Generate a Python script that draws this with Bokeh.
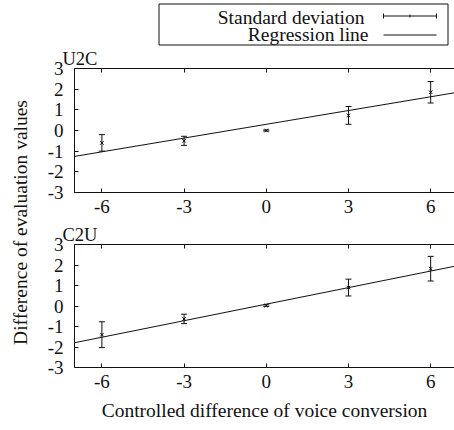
import math
from bokeh.plotting import figure
from bokeh.layouts import row, column
from bokeh.models import (Range1d, FixedTicker, LinearAxis, Whisker, TeeHead,
                          ColumnDataSource, Slope, Title)
from bokeh.core.properties import value
from bokeh.embed import file_html
from bokeh.resources import INLINE

# ---- data ----
x_vals = [-6, -3, 0, 3, 6]
u2c_mean = [-0.6, -0.5, 0.0, 0.73, 1.85]
u2c_sd = [0.40, 0.22, 0.03, 0.43, 0.52]
c2u_mean = [-1.40, -0.63, 0.02, 0.90, 1.82]
c2u_sd = [0.63, 0.23, 0.04, 0.41, 0.60]
u2c_fit = [0.222, 0.30]   # slope, intercept
c2u_fit = [0.269, 0.09]
x_ticks = [-6, -3, 0, 3, 6]
x_tick_labels = ["-6", "-3", "0", "3", "6"]
y_ticks = [-3, -2, -1, 0, 1, 2, 3]
y_tick_labels = ["-3", "-2", "-1", "0", "1", "2", "3"]
panel_names = ["U2C", "C2U"]
legend_labels = ["Standard deviation", "Regression line"]
x_label = "Controlled difference of voice conversion"
y_label = "Difference of evaluation values"

FONT = "Times"
FS = "19.5px"
TFS = "19px"
NFS = "18.5px"
INK = "#111111"
COLW = 424


def panel(name, means, sds, fit, height, bottom, show_xlabel):
    p = figure(width=COLW, height=height, output_backend="svg", toolbar_location=None,
               x_range=Range1d(-7, 6.87), y_range=Range1d(-3, 3),
               min_border_left=44, min_border_right=0,
               min_border_top=0, min_border_bottom=bottom,
               x_axis_location=None, y_axis_location=None)
    p.outline_line_color = None
    p.grid.visible = False
    p.title = Title(text=name, align="left", offset=-12, standoff=0,
                    text_font=FONT, text_font_size=NFS, text_font_style="normal",
                    text_color=INK)

    bx = LinearAxis(ticker=FixedTicker(ticks=x_ticks),
                    major_label_overrides=dict(zip(x_ticks, x_tick_labels)))
    ax = LinearAxis(ticker=FixedTicker(ticks=x_ticks))
    ly = LinearAxis(ticker=FixedTicker(ticks=y_ticks),
                    major_label_overrides=dict(zip(y_ticks, y_tick_labels)))
    for a in (bx, ax, ly):
        a.major_tick_in = 4
        a.major_tick_out = 0
        a.minor_tick_line_color = None
        a.axis_line_color = INK
        a.major_tick_line_color = INK
        a.major_label_text_font = FONT
        a.major_label_text_font_size = TFS
        a.major_label_text_color = INK
    ax.major_label_text_color = None
    ax.major_label_text_font_size = "1px"
    ax.major_label_standoff = 0
    bx.major_label_standoff = 7
    ly.major_label_standoff = 11
    if show_xlabel:
        bx.axis_label = x_label
        bx.axis_label_text_font = FONT
        bx.axis_label_text_font_size = FS
        bx.axis_label_text_font_style = "normal"
        bx.axis_label_text_color = INK
        bx.axis_label_standoff = 9
    p.add_layout(bx, "below")
    p.add_layout(ax, "above")
    p.add_layout(ly, "left")

    src = ColumnDataSource(dict(x=x_vals, y=means,
                                lo=[m - s for m, s in zip(means, sds)],
                                hi=[m + s for m, s in zip(means, sds)]))
    p.add_layout(Whisker(source=src, base="x", lower="lo", upper="hi",
                         line_color=INK, line_width=1,
                         upper_head=TeeHead(size=6, line_color=INK, line_width=1),
                         lower_head=TeeHead(size=6, line_color=INK, line_width=1)))
    p.scatter("x", "y", source=src, marker="x", size=5, line_color=INK, line_width=1)
    p.add_layout(Slope(gradient=fit[0], y_intercept=fit[1], line_color=INK, line_width=1))
    return p


# legend strip: its frame lines up with the panels' frames (page x 74..454)
leg = figure(width=COLW, height=46, output_backend="svg", toolbar_location=None,
             x_range=Range1d(74, 454), y_range=Range1d(46, 0),
             min_border_left=44, min_border_right=0, min_border_top=0, min_border_bottom=0,
             x_axis_location=None, y_axis_location=None)
leg.outline_line_color = None
leg.grid.visible = False
leg.quad(left=[158.5], right=[447.5], top=[3.5], bottom=[44.5], fill_color=None,
         line_color=INK, line_width=1)
leg.text(x=[364, 368], y=[17, 34], text=legend_labels, text_font=value(FONT),
         text_font_size=FS, text_align="right", text_baseline="middle", text_color=INK)
leg.segment(x0=[383], y0=[15.5], x1=[436], y1=[15.5], line_color=INK, line_width=1)
leg.segment(x0=[383, 436, 409.5], y0=[13, 13, 14], x1=[383, 436, 409.5], y1=[18, 18, 17],
            line_color=INK, line_width=1)
leg.segment(x0=[383], y0=[34.5], x1=[436], y1=[34.5], line_color=INK, line_width=1)

p1 = panel(panel_names[0], u2c_mean, u2c_sd, u2c_fit, 176, 30, False)
p2 = panel(panel_names[1], c2u_mean, c2u_sd, c2u_fit, 208, 63, True)

ylab = figure(width=30, height=430, output_backend="svg", toolbar_location=None,
              x_range=Range1d(0, 30), y_range=Range1d(430, 0),
              min_border=0, x_axis_location=None, y_axis_location=None)
ylab.outline_line_color = None
ylab.grid.visible = False
ylab.text(x=[20], y=[222], text=[y_label], angle=math.pi / 2, text_font=value(FONT),
          text_font_size=FS, text_align="center", text_baseline="middle", text_color=INK)

layout = row(ylab, column(leg, p1, p2, spacing=0), spacing=0)
open("out.html", "w").write(file_html(layout, INLINE))
